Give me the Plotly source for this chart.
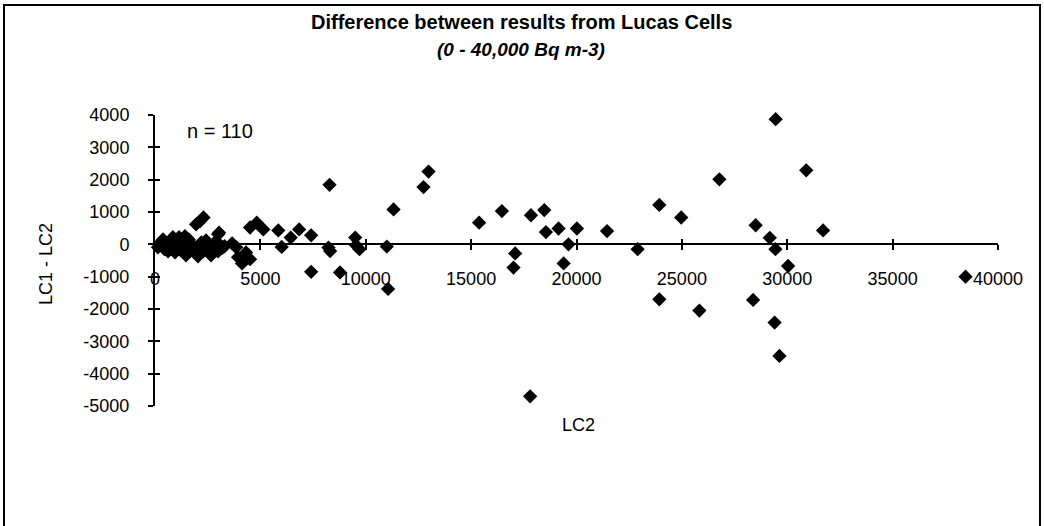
import plotly.graph_objects as go

# LC2 values (x) and LC1 - LC2 differences (y)
lc2 = [
    140, 240, 380, 520, 620, 710, 850, 950, 1000, 1140, 1190, 1330, 1420, 1470,
    1570, 1660, 1800, 1950, 2040, 2140, 2280, 2420, 2520, 2660, 2800, 2990, 3180,
    1950, 2140, 2300, 3000, 3040, 4510, 4830, 5140,
    3660, 3850, 3940, 4130, 4320, 4510,
    300, 450, 800, 1100, 1250, 1600, 1750, 2200, 2600, 2900, 3300,
    5850, 6010, 6440, 6840, 7410, 8230, 8310, 9500, 9540, 9700, 11000,
    7410, 8780, 11060, 8280, 11320, 12740, 12980,
    15380, 16460, 17840, 18470, 18550, 19150, 20020, 19620, 17090, 17010, 19390,
    17800, 21450, 22900, 23930, 24970, 23930, 25830, 26780,
    28500, 29170, 29440, 29450, 30900, 31700, 30040, 28380, 29400, 29630, 38460,
]
diff = [
    -90, 0, 150, -90, -220, 60, 220, -250, -60, 220, 90, -120, 250, -340,
    30, -190, -30, -280, -370, 0, -220, 120, -150, -340, -30, -220, -120,
    620, 720, 830, 310, 360, 520, 670, 460,
    30, -90, -400, -590, -250, -460,
    80, -150, 100, 40, -200, 150, -100, 60, -80, 100, -60,
    430, -80, 210, 460, 280, -100, -210, 210, -30, -150, -70,
    -850, -870, -1380, 1840, 1080, 1770, 2250,
    670, 1030, 900, 1060, 380, 490, 490, 0, -280, -720, -590,
    -4700, 410, -150, 1220, 830, -1700, -2050, 2010,
    590, 200, -150, 3870, 2290, 430, -670, -1720, -2420, -3450, -1000,
]

x_ticks = [0, 5000, 10000, 15000, 20000, 25000, 30000, 35000, 40000]
y_ticks = [4000, 3000, 2000, 1000, 0, -1000, -2000, -3000, -4000, -5000]

title_1 = "Difference between results from Lucas Cells"
title_2 = "(0 - 40,000 Bq m-3)"
x_title = "LC2"
y_title = "LC1 - LC2"
n_label = "n = 110"

FONT = "Liberation Sans, Arial, sans-serif"
Y_RANGE = [-5000, 4000]
X_RANGE = [0, 40000]
zero_pos = (0 - Y_RANGE[0]) / (Y_RANGE[1] - Y_RANGE[0])

fig = go.Figure()
fig.add_trace(go.Scatter(
    x=lc2, y=diff, mode="markers",
    marker=dict(symbol="diamond", size=11, color="black", line=dict(width=0)),
    cliponaxis=False, showlegend=False, hoverinfo="x+y",
))
# invisible helper trace so the overlay axes (inner tick halves) render
fig.add_trace(go.Scatter(x=[X_RANGE[0]], y=[Y_RANGE[0]], xaxis="x2", yaxis="y2",
                         mode="markers", marker=dict(opacity=0), showlegend=False,
                         hoverinfo="skip"))

W, H = 1044, 526
L, R, T, B = 155, 46, 115, 120
pw, ph = W - L - R, H - T - B

def px(xp):
    return (xp - L) / pw

def py(yp):
    return (H - B - yp) / ph

tickfont = dict(family=FONT, size=18, color="black")

fig.update_layout(
    width=W, height=H,
    margin=dict(l=L, r=R, t=T, b=B),
    paper_bgcolor="white", plot_bgcolor="white",
    showlegend=False,
    xaxis=dict(
        range=X_RANGE, tickvals=x_ticks, ticktext=[str(v) for v in x_ticks],
        showgrid=False, zeroline=False, showline=True, linecolor="black", linewidth=2,
        anchor="free", position=zero_pos,
        ticks="outside", ticklen=5, tickwidth=1.5, tickcolor="black",
        tickfont=tickfont, ticklabelstandoff=13,
    ),
    yaxis=dict(
        range=Y_RANGE, tickvals=y_ticks, ticktext=[str(v) for v in y_ticks],
        showgrid=False, zeroline=False, showline=True, linecolor="black", linewidth=2,
        ticks="outside", ticklen=5, tickwidth=1.5, tickcolor="black",
        tickfont=tickfont, ticklabelstandoff=15,
    ),
    xaxis2=dict(
        range=X_RANGE, tickvals=x_ticks, overlaying="x", anchor="free", position=zero_pos,
        showgrid=False, zeroline=False, showline=False, showticklabels=False,
        ticks="inside", ticklen=5, tickwidth=1.5, tickcolor="black",
    ),
    yaxis2=dict(
        range=Y_RANGE, tickvals=y_ticks, overlaying="y", anchor="x2",
        showgrid=False, zeroline=False, showline=False, showticklabels=False,
        ticks="inside", ticklen=5, tickwidth=1.5, tickcolor="black",
    ),
    shapes=[dict(type="rect", xref="paper", yref="paper",
                 x0=px(4), x1=px(1040), y0=py(540), y1=py(5),
                 line=dict(color="black", width=2), fillcolor="rgba(0,0,0,0)", layer="below")],
    annotations=[
        dict(text="<b>" + title_1 + "</b>", x=px(521), y=py(22), xref="paper", yref="paper",
             showarrow=False, xanchor="center", yanchor="middle",
             font=dict(family=FONT, size=20, color="black")),
        dict(text="<b><i>" + title_2 + "</i></b>", x=px(521), y=py(50), xref="paper", yref="paper",
             showarrow=False, xanchor="center", yanchor="middle",
             font=dict(family=FONT, size=19, color="black")),
        dict(text=n_label, x=px(185), y=py(131), xref="paper", yref="paper",
             showarrow=False, xanchor="left", yanchor="middle",
             font=dict(family=FONT, size=20, color="black")),
        dict(text=x_title, x=px(578), y=py(425), xref="paper", yref="paper",
             showarrow=False, xanchor="center", yanchor="middle",
             font=dict(family=FONT, size=18, color="black")),
        dict(text=y_title, x=px(46), y=py(264), xref="paper", yref="paper",
             showarrow=False, xanchor="center", yanchor="middle", textangle=-90,
             font=dict(family=FONT, size=18, color="black")),
    ],
)

fig.write_html("out.html")
